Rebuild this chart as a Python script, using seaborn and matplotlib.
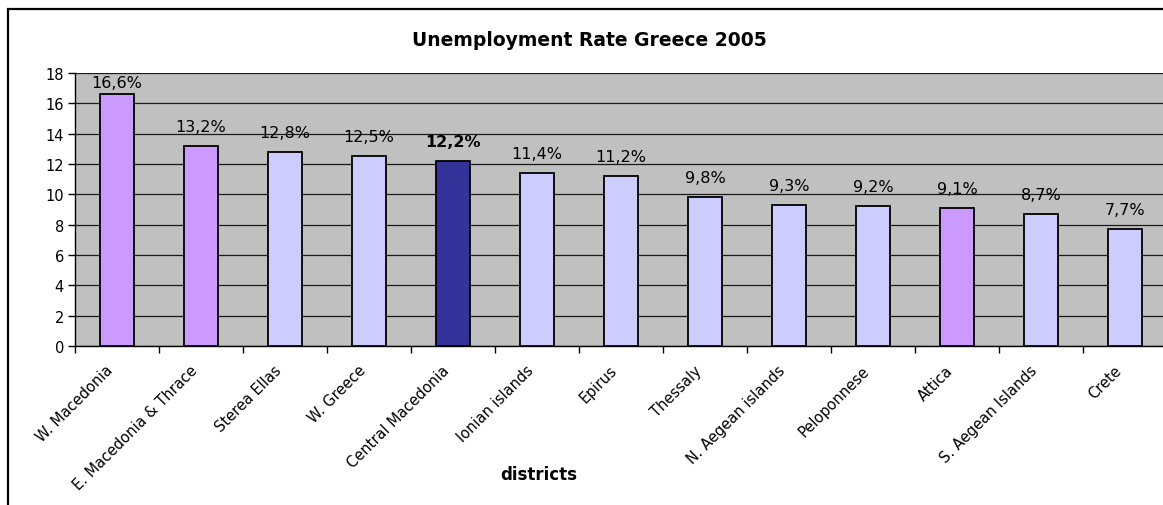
import matplotlib
matplotlib.use("Agg")
import matplotlib.pyplot as plt
import matplotlib.patches as mpatches
import matplotlib.transforms as mtransforms
import seaborn as sns
import pandas as pd

districts = ["W. Macedonia", "E. Macedonia & Thrace", "Sterea Ellas", "W. Greece",
             "Central Macedonia", "Ionian islands", "Epirus", "Thessaly",
             "N. Aegean islands", "Peloponnese", "Attica", "S. Aegean Islands", "Crete"]
rates = [16.6, 13.2, 12.8, 12.5, 12.2, 11.4, 11.2, 9.8, 9.3, 9.2, 9.1, 8.7, 7.7]
bar_colors = ["#CC99FF", "#CC99FF", "#CCCCFF", "#CCCCFF", "#333399", "#CCCCFF", "#CCCCFF",
              "#CCCCFF", "#CCCCFF", "#CCCCFF", "#CC99FF", "#CCCCFF", "#CCCCFF"]
highlight = "Central Macedonia"

sns.set_style("white")
plt.rcParams["font.family"] = ["DejaVu Sans"]
plt.rcParams["text.color"] = "black"
plt.rcParams["axes.labelcolor"] = "black"
plt.rcParams["xtick.color"] = "black"
plt.rcParams["ytick.color"] = "black"

df = pd.DataFrame({"district": districts, "rate": rates})

W, H = 1163, 506
fig = plt.figure(figsize=(W / 100, H / 100), dpi=100)
ax = fig.add_axes([75 / W, 1 - 347 / H, (1167 - 75) / W, (347 - 74) / H])

sns.barplot(data=df, x="district", y="rate", hue="district", palette=bar_colors,
            saturation=1, width=0.4, edgecolor="black", linewidth=1.3, legend=False,
            ax=ax, zorder=3)

YMAX = 18
ax.set_facecolor("#C0C0C0")
ax.set_ylim(0, YMAX)
ax.set_xlim(-0.5, len(districts) - 0.5)
ax.set_yticks(range(0, YMAX + 1, 2))
ax.yaxis.grid(True, color="#1a1a1a", linewidth=0.9, zorder=0)
ax.set_axisbelow(True)
for side in ("top", "right"):
    ax.spines[side].set_visible(False)
for side in ("left", "bottom"):
    ax.spines[side].set_color("black")
    ax.spines[side].set_linewidth(1.0)

ax.tick_params(axis="y", which="major", left=True, length=5, width=1, color="black",
               labelsize=10.5, pad=3)
# category boundaries carry the x tick marks
ax.set_xticks([i - 0.5 for i in range(len(districts) + 1)], minor=True)
ax.tick_params(axis="x", which="minor", bottom=True, length=5, width=1, color="black")
ax.tick_params(axis="x", which="major", bottom=False, pad=12)
ax.set_xticks(range(len(districts)))
ax.set_xticklabels(districts, rotation=45, ha="right", va="center", rotation_mode="anchor",
                   fontsize=10.5)
shift = mtransforms.ScaledTranslation(-6 / 100, 0, fig.dpi_scale_trans)
for lbl in ax.get_xticklabels():
    lbl.set_transform(lbl.get_transform() + shift)

ax.set_xlabel("districts", fontsize=12, fontweight="bold")
ax.xaxis.set_label_coords((539 - 75) / (1167 - 75), -(475 - 347) / (347 - 74))
ax.xaxis.label.set_va("center")
ax.set_ylabel("")

# value labels sit above each bar, kept inside the plot area
for i, (name, val) in enumerate(zip(districts, rates)):
    ax.text(i, min(val + 1.3, YMAX - 0.6), f"{val:.1f}%".replace(".", ","),
            ha="center", va="center", fontsize=11.5,
            fontweight="bold" if name == highlight else "normal")

fig.text(589 / W, 1 - 40 / H, "Unemployment Rate Greece 2005", ha="center", va="center",
         fontsize=13.5, fontweight="bold")

# chart frame
fig.patches.append(mpatches.Rectangle((8 / W, -0.05), 1.1, 1 - 10 / H + 0.05,
                                      transform=fig.transFigure, fill=False,
                                      edgecolor="black", linewidth=1.6))

fig.savefig("out.png", dpi=100)
